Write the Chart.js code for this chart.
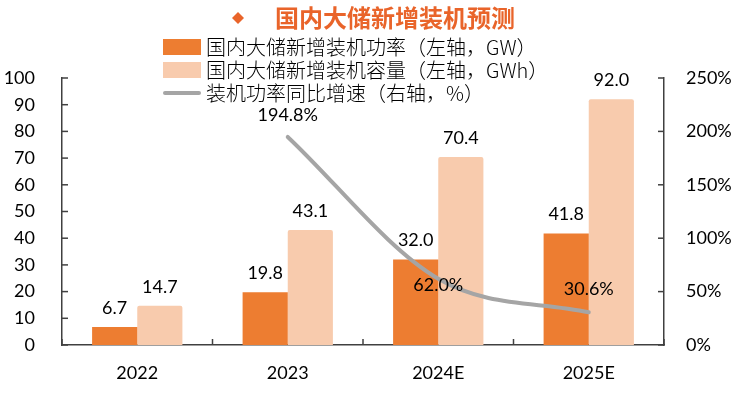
<!DOCTYPE html>
<html><head><meta charset="utf-8">
<script src="https://cdn.jsdelivr.net/npm/chart.js@4/dist/chart.umd.min.js"></script>
<style>html,body{margin:0;padding:0;background:#fff}canvas{display:block}</style>
</head><body>
<canvas id="c" width="741" height="396"></canvas>
<script>
const categories = ["2022", "2023", "2024E", "2025E"];
const powerGW = [6.7, 19.8, 32.0, 41.8];
const capacityGWh = [14.7, 43.1, 70.4, 92.0];
const growthPct = [null, 194.8, 62.0, 30.6];
const leftTicks = [0, 10, 20, 30, 40, 50, 60, 70, 80, 90, 100];
const rightTicks = [0, 50, 100, 150, 200, 250];
const titleText = "国内大储新增装机预测";
const legendLabels = ["国内大储新增装机功率（左轴，GW）", "国内大储新增装机容量（左轴，GWh）", "装机功率同比增速（右轴，%）"];

const ORANGE = "#ED7D31", PEACH = "#F8CBAD", GRAY = "#A5A5A5", AXIS = "#404040";
const NUMFONT = "Lato, 'Noto Sans', sans-serif";
const CJK = "'Noto Sans CJK SC', sans-serif";

const overlay = {
  id: 'overlay',
  afterDatasetsDraw(chart) {
    const ctx = chart.ctx;
    const x = chart.scales.x, y = chart.scales.y, y1 = chart.scales.y1;
    ctx.save();
    ctx.strokeStyle = AXIS; ctx.lineWidth = 1.5;
    y.ticks.forEach(t => { const py = y.getPixelForValue(t.value); ctx.beginPath(); ctx.moveTo(y.right, py); ctx.lineTo(y.right + 6, py); ctx.stroke(); });
    y1.ticks.forEach(t => { const py = y1.getPixelForValue(t.value); ctx.beginPath(); ctx.moveTo(y1.left, py); ctx.lineTo(y1.left - 6, py); ctx.stroke(); });
    for (let i = 0; i <= categories.length; i++) {
      const px = x.left + (x.right - x.left) * i / categories.length;
      ctx.beginPath(); ctx.moveTo(px, x.top); ctx.lineTo(px, x.top - 6); ctx.stroke();
    }
    ctx.fillStyle = "#000"; ctx.font = "18px " + NUMFONT; ctx.textAlign = "center"; ctx.textBaseline = "middle";
    [1, 2].forEach(di => {
      const meta = chart.getDatasetMeta(di);
      const vals = chart.data.datasets[di].data;
      meta.data.forEach((el, j) => { ctx.fillText(vals[j].toFixed(1), el.x, el.y - 19); });
    });
    const lm = chart.getDatasetMeta(0);
    const offs = [0, -22, 6, -23];
    lm.data.forEach((el, j) => {
      const v = growthPct[j];
      if (v == null) return;
      ctx.fillText(v.toFixed(1) + "%", el.x, el.y + offs[j]);
    });
    ctx.restore();
  },
  afterDraw(chart) {
    const ctx = chart.ctx;
    ctx.save();
    ctx.fillStyle = "#E9642A";
    ctx.beginPath(); ctx.moveTo(238, 12); ctx.lineTo(244, 18); ctx.lineTo(238, 24); ctx.lineTo(232, 18); ctx.closePath(); ctx.fill();
    ctx.font = "bold 24px " + CJK; ctx.textAlign = "left"; ctx.textBaseline = "middle";
    ctx.fillText(titleText, 275, 18);
    const rows = [47, 70, 93];
    ctx.fillStyle = ORANGE; ctx.fillRect(163, 39, 38, 16);
    ctx.fillStyle = PEACH; ctx.fillRect(163, 62, 38, 16);
    ctx.strokeStyle = GRAY; ctx.lineWidth = 4; ctx.lineCap = "round";
    ctx.beginPath(); ctx.moveTo(165, rows[2]); ctx.lineTo(199, rows[2]); ctx.stroke();
    ctx.fillStyle = "#000"; ctx.font = "300 20px " + CJK;
    legendLabels.forEach((t, i) => ctx.fillText(t, 206, rows[i]));
    ctx.restore();
  }
};

new Chart(document.getElementById('c'), {
  data: {
    labels: categories,
    datasets: [
      { type: 'line', data: growthPct, yAxisID: 'y1', borderColor: GRAY, borderWidth: 4, pointRadius: 0, tension: 0.4, cubicInterpolationMode: 'monotone', borderCapStyle: 'round', order: 0 },
      { type: 'bar', data: powerGW, yAxisID: 'y', backgroundColor: ORANGE, barPercentage: 1, categoryPercentage: 0.6, order: 1 },
      { type: 'bar', data: capacityGWh, yAxisID: 'y', backgroundColor: PEACH, barPercentage: 1, categoryPercentage: 0.6, borderRadius: 2, borderSkipped: 'bottom', order: 2 }
    ]
  },
  options: {
    responsive: false, devicePixelRatio: 1, animation: false,
    layout: { padding: { top: 78, left: 0, right: 0, bottom: 0 } },
    plugins: { legend: { display: false }, tooltip: { enabled: false } },
    scales: {
      x: {
        grid: { display: false }, border: { color: AXIS, width: 1.5 },
        ticks: { padding: 9, color: "#000", font: { size: 18, family: NUMFONT } },
        afterFit(s) { s.height = 51; }
      },
      y: {
        position: 'left', min: 0, max: 100,
        grid: { display: false }, border: { color: AXIS, width: 1.5 },
        ticks: { stepSize: 10, padding: 19, color: "#000", font: { size: 18, family: NUMFONT },
          callback: (v) => leftTicks.includes(v) ? String(v) : null },
        afterFit(s) { s.width = 62; }
      },
      y1: {
        position: 'right', min: 0, max: 250,
        grid: { display: false }, border: { color: AXIS, width: 1.5 },
        ticks: { stepSize: 50, padding: 14, color: "#000", font: { size: 18, family: NUMFONT },
          callback: (v) => rightTicks.includes(v) ? v + "%" : null },
        afterFit(s) { s.width = 77; }
      }
    }
  },
  plugins: [overlay]
});
</script>
</body></html>
